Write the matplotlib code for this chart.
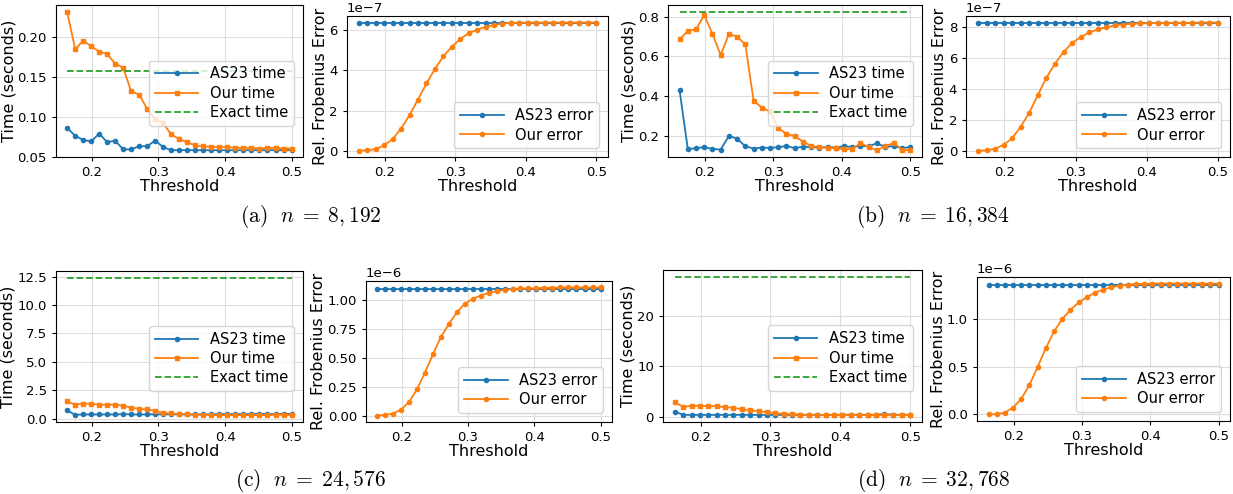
"""Timing and error comparison of AS23 against our method for four matrix sizes."""

import matplotlib
matplotlib.use("Agg")
import matplotlib.pyplot as plt

plt.rcParams["mathtext.fontset"] = "cm"

thresholds = [0.163, 0.175, 0.187, 0.199, 0.211, 0.223, 0.235, 0.247, 0.259, 0.271,
              0.283, 0.295, 0.307, 0.319, 0.331, 0.343, 0.355, 0.367, 0.379, 0.391,
              0.403, 0.415, 0.427, 0.439, 0.451, 0.463, 0.476, 0.488, 0.500]
x_ticks = [0.2, 0.3, 0.4, 0.5]

# n = 8,192
as23_time_a = [0.086, 0.076, 0.071, 0.069, 0.079, 0.068, 0.070, 0.059, 0.059, 0.063,
               0.063, 0.070, 0.062, 0.058, 0.058, 0.058, 0.058, 0.058, 0.058, 0.058,
               0.058, 0.058, 0.058, 0.058, 0.058, 0.058, 0.058, 0.058, 0.058]
our_time_a = [0.232, 0.185, 0.196, 0.189, 0.182, 0.179, 0.167, 0.162, 0.132, 0.128,
              0.110, 0.097, 0.092, 0.078, 0.072, 0.068, 0.064, 0.063, 0.062, 0.062,
              0.062, 0.061, 0.061, 0.061, 0.060, 0.061, 0.061, 0.060, 0.060]
exact_time_a = 0.158
time_ticks_a = [0.05, 0.10, 0.15, 0.20]
as23_err_a = 6.37
our_err_a = [0.0, 0.02, 0.08, 0.27, 0.58, 1.10, 1.77, 2.55, 3.35, 4.07,
             4.70, 5.18, 5.57, 5.85, 6.03, 6.17, 6.27, 6.33, 6.37, 6.38,
             6.39, 6.39, 6.39, 6.39, 6.39, 6.39, 6.39, 6.39, 6.39]

# n = 16,384
as23_time_b = [0.430, 0.136, 0.140, 0.145, 0.136, 0.133, 0.202, 0.187, 0.150, 0.138,
               0.143, 0.141, 0.145, 0.151, 0.140, 0.148, 0.145, 0.143, 0.146, 0.143,
               0.150, 0.146, 0.151, 0.150, 0.164, 0.146, 0.151, 0.140, 0.146]
our_time_b = [0.686, 0.728, 0.736, 0.807, 0.713, 0.607, 0.713, 0.699, 0.660, 0.378,
              0.344, 0.324, 0.240, 0.212, 0.200, 0.173, 0.151, 0.145, 0.141, 0.140,
              0.135, 0.136, 0.165, 0.145, 0.130, 0.150, 0.167, 0.130, 0.130]
exact_time_b = 0.823
time_ticks_b = [0.2, 0.4, 0.6, 0.8]
as23_err_b = 8.24
our_err_b = [0.0, 0.02, 0.13, 0.37, 0.82, 1.55, 2.47, 3.61, 4.73, 5.63,
             6.39, 6.97, 7.35, 7.66, 7.85, 8.00, 8.11, 8.17, 8.22, 8.24,
             8.26, 8.26, 8.28, 8.28, 8.28, 8.28, 8.30, 8.30, 8.30]

# n = 24,576
as23_time_c = [0.73, 0.35, 0.38, 0.38, 0.38, 0.38, 0.38, 0.41, 0.38, 0.38,
               0.38, 0.41, 0.38, 0.41, 0.38, 0.38, 0.38, 0.38, 0.38, 0.41,
               0.41, 0.41, 0.41, 0.41, 0.44, 0.41, 0.41, 0.44, 0.41]
our_time_c = [1.52, 1.25, 1.34, 1.31, 1.25, 1.22, 1.25, 1.14, 0.99, 0.87,
              0.82, 0.70, 0.52, 0.47, 0.41, 0.41, 0.35, 0.35, 0.32, 0.32,
              0.32, 0.32, 0.32, 0.32, 0.32, 0.32, 0.35, 0.35, 0.32]
exact_time_c = 12.38
time_ticks_c = [0.0, 2.5, 5.0, 7.5, 10.0, 12.5]
as23_err_c = 1.101
our_err_c = [0.0, 0.006, 0.017, 0.052, 0.118, 0.228, 0.373, 0.532, 0.682, 0.795,
             0.896, 0.971, 1.014, 1.043, 1.066, 1.081, 1.092, 1.098, 1.104, 1.104,
             1.107, 1.110, 1.110, 1.113, 1.113, 1.113, 1.113, 1.113, 1.113]

# n = 32,768
as23_time_d = [1.06, 0.40, 0.40, 0.40, 0.40, 0.40, 0.40, 0.40, 0.40, 0.40,
               0.40, 0.40, 0.40, 0.40, 0.40, 0.40, 0.40, 0.40, 0.40, 0.40,
               0.45, 0.40, 0.40, 0.40, 0.40, 0.55, 0.45, 0.40, 0.40]
our_time_d = [2.91, 1.99, 2.19, 2.19, 2.12, 2.12, 1.92, 1.79, 1.52, 1.32,
              1.13, 0.93, 0.73, 0.60, 0.53, 0.46, 0.40, 0.40, 0.40, 0.40,
              0.40, 0.35, 0.35, 0.35, 0.35, 0.35, 0.40, 0.35, 0.35]
exact_time_d = 27.75
time_ticks_d = [0, 10, 20]
as23_err_d = 1.355
our_err_d = [0.0, 0.003, 0.02, 0.072, 0.162, 0.31, 0.497, 0.693, 0.866, 0.997,
             1.09, 1.169, 1.224, 1.272, 1.303, 1.328, 1.345, 1.355, 1.362, 1.362,
             1.366, 1.366, 1.366, 1.366, 1.366, 1.366, 1.366, 1.366, 1.366]

captions = [r"$\mathrm{(a)}\ \ n\;=\;8,192$", r"$\mathrm{(b)}\ \ n\;=\;16,384$",
            r"$\mathrm{(c)}\ \ n\;=\;24,576$", r"$\mathrm{(d)}\ \ n\;=\;32,768$"]
err_scales = [1e-7, 1e-7, 1e-6, 1e-6]

BLUE, ORANGE, GREEN = "#1f77b4", "#ff7f0e", "#2ca02c"


def style_axes(ax):
    """Common grid, ticks and x label."""
    ax.grid(True, color="#dddddd", linewidth=0.8)
    ax.set_axisbelow(True)
    ax.tick_params(labelsize=9.5, length=3)
    ax.set_xticks(x_ticks)
    ax.set_xlabel("Threshold", fontsize=11.5, labelpad=0)
    ax.yaxis.get_offset_text().set_fontsize(9.5)


def add_time_plot(ax, as23, ours, exact, ticks):
    """Time of AS23, our method and the exact computation."""
    ax.plot(thresholds, as23, color=BLUE, marker="o", markersize=3, linewidth=1.3, label="AS23 time")
    ax.plot(thresholds, ours, color=ORANGE, marker="s", markersize=3, linewidth=1.3, label="Our time")
    ax.plot(thresholds, [exact] * len(thresholds), color=GREEN, linestyle="--", linewidth=1.3,
            label="Exact time")
    style_axes(ax)
    ax.set_yticks(ticks)
    ax.set_ylabel("Time (seconds)", fontsize=11.5, labelpad=1)
    ax.legend(loc="center right", bbox_to_anchor=(1.0, 0.42), fontsize=10.5, handlelength=3,
              labelspacing=0.3, borderaxespad=0.6)


def add_error_plot(ax, as23, ours, scale):
    """Relative Frobenius error of AS23 and our method."""
    ax.plot(thresholds, [as23 * scale] * len(thresholds), color=BLUE, marker="o", markersize=3,
            linewidth=1.3, label="AS23 error")
    ax.plot(thresholds, [v * scale for v in ours], color=ORANGE, marker="o", markersize=3,
            linewidth=1.3, label="Our error")
    style_axes(ax)
    ax.set_ylabel("Rel. Frobenius Error", fontsize=11.5, labelpad=1)
    ax.legend(loc="lower right", fontsize=10.5, handlelength=3, labelspacing=0.3,
              borderaxespad=0.6)


fig = plt.figure(figsize=(12.33, 4.94), dpi=100)

time_boxes = [[0.0454, 0.682, 0.2003, 0.3077], [0.5418, 0.682, 0.2060, 0.3077],
              [0.0454, 0.1457, 0.2003, 0.3057], [0.5377, 0.1457, 0.2100, 0.3077]]
err_boxes = [[0.2814, 0.682, 0.2117, 0.2854], [0.7835, 0.682, 0.2141, 0.2854],
             [0.2968, 0.1457, 0.1995, 0.2854], [0.7924, 0.1478, 0.2052, 0.2915]]

times = [(as23_time_a, our_time_a, exact_time_a, time_ticks_a),
         (as23_time_b, our_time_b, exact_time_b, time_ticks_b),
         (as23_time_c, our_time_c, exact_time_c, time_ticks_c),
         (as23_time_d, our_time_d, exact_time_d, time_ticks_d)]
errors = [(as23_err_a, our_err_a), (as23_err_b, our_err_b),
          (as23_err_c, our_err_c), (as23_err_d, our_err_d)]

for i in range(4):
    add_time_plot(fig.add_axes(time_boxes[i]), *times[i])
    add_error_plot(fig.add_axes(err_boxes[i]), *errors[i], err_scales[i])

caption_pos = [(0.252, 0.561), (0.757, 0.561), (0.252, 0.028), (0.757, 0.028)]
for (cx, cy), text in zip(caption_pos, captions):
    fig.text(cx, cy, text, fontsize=15.5, ha="center", va="center")

plt.savefig("out.png", dpi=100)
